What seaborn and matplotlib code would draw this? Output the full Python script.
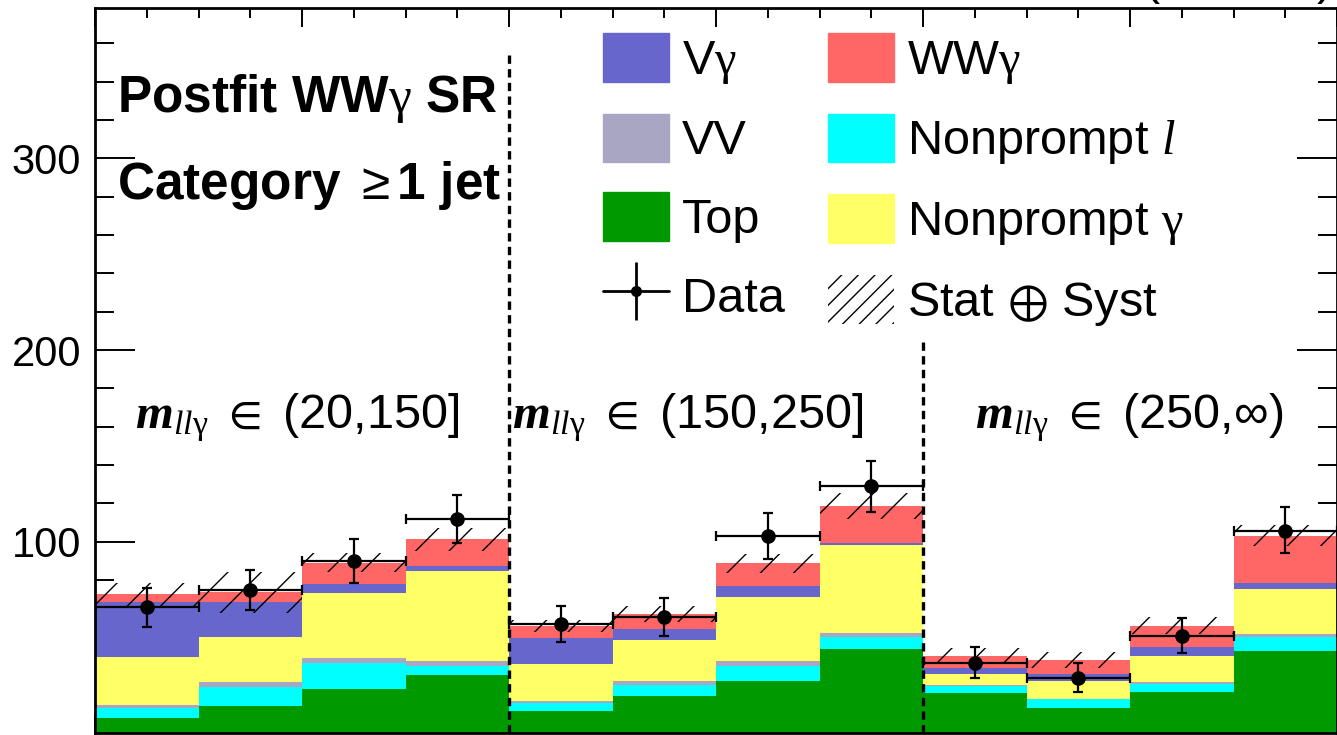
import seaborn as sns
import matplotlib.pyplot as plt
import matplotlib.patches as mpatches
from matplotlib.lines import Line2D
from matplotlib.legend_handler import HandlerTuple
from matplotlib.ticker import MultipleLocator, FixedLocator
import pandas as pd
import numpy as np

sns.set_style("ticks")
plt.rcParams["font.family"] = ["Liberation Sans", "DejaVu Sans"]
plt.rcParams["text.color"] = "black"
plt.rcParams["axes.edgecolor"] = "black"
plt.rcParams["xtick.color"] = "black"
plt.rcParams["ytick.color"] = "black"
plt.rcParams["mathtext.fontset"] = "custom"
plt.rcParams["mathtext.rm"] = "Liberation Sans"
plt.rcParams["mathtext.it"] = "Liberation Serif:italic"
plt.rcParams["mathtext.bf"] = "Liberation Serif:bold:italic"
plt.rcParams["mathtext.sf"] = "Liberation Serif"
plt.rcParams["mathtext.fallback"] = "stix"
plt.rcParams["hatch.linewidth"] = 1.0

# 12 analysis bins along x
bin_edges = list(range(13))
centers = np.arange(12) + 0.5

# postfit yields per process, bottom of stack first
top      = [7.8, 14.2, 22.9, 30.4, 11.8, 19.6, 27.5, 44.2, 20.9, 13.4, 21.5, 43.1]
np_lep   = [5.6, 10.1, 13.6, 4.9, 3.8, 5.6, 7.6, 6.2, 3.8, 4.3, 4.4, 7.3]
vv       = [1.4, 2.3, 2.6, 2.4, 1.3, 2.1, 2.6, 2.1, 0.5, 0.4, 1.0, 1.2]
np_pho   = [25.2, 23.8, 33.9, 47.0, 19.3, 21.4, 33.6, 45.6, 5.7, 9.4, 13.6, 23.7]
vgamma   = [28.7, 18.3, 4.9, 2.8, 13.4, 5.7, 5.6, 1.2, 3.3, 3.4, 4.7, 2.9]
wwgamma  = [3.8, 4.8, 11.1, 13.7, 6.4, 7.8, 11.8, 19.3, 6.1, 7.3, 11.0, 24.9]

# total uncertainty (stat + syst) on the stack
unc = [6.0, 10.5, 5.0, 6.0, 3.2, 4.0, 5.0, 6.6, 4.0, 4.0, 4.3, 5.6]

# observed data with asymmetric errors
data_y  = [65.7, 74.8, 89.9, 111.8, 56.9, 60.8, 102.8, 129.0, 36.9, 28.7, 50.8, 105.7]
data_up = [10.3, 10.4, 11.3, 12.6, 9.7, 9.8, 12.0, 12.9, 8.3, 7.8, 9.2, 12.5]
data_dn = [10.1, 10.5, 11.3, 12.3, 9.4, 9.9, 11.9, 13.4, 8.2, 7.3, 9.1, 11.8]

procs = {
    r"WW$\mathsf{\gamma}$": (wwgamma, "#FF6666"),
    r"V$\mathsf{\gamma}$": (vgamma, "#6666CC"),
    r"Nonprompt $\mathsf{\gamma}$": (np_pho, "#FFFF66"),
    "VV": (vv, "#A9A6C3"),
    r"Nonprompt $\mathit{l}$": (np_lep, "#00FFFF"),
    "Top": (top, "#009900"),
}

rows = []
for name, (vals, _) in procs.items():
    for c, v in zip(centers, vals):
        rows.append({"x": c, "w": v, "process": name})
df = pd.DataFrame(rows)
palette = {k: v[1] for k, v in procs.items()}

fig = plt.figure(figsize=(13.37, 7.35), dpi=100)
ax = fig.add_axes([95 / 1337, 1.7 / 735, 1242 / 1337, 725 / 735])

sns.histplot(data=df, x="x", weights="w", hue="process", hue_order=list(procs.keys()),
             multiple="stack", bins=bin_edges, element="bars", fill=True, alpha=1,
             linewidth=0, edgecolor="none", palette=palette, legend=False, ax=ax)

total = np.sum([v[0] for v in procs.values()], axis=0)
ax.bar(centers, 2 * np.array(unc), bottom=total - np.array(unc), width=1.0,
       fill=False, hatch="/", edgecolor="black", linewidth=0)

ax.errorbar(centers, data_y, xerr=0.5, yerr=[data_dn, data_up], fmt="o",
            color="black", markersize=9.5, elinewidth=1.6, capsize=3.5,
            capthick=1.6)

# region separators
ax.plot([4, 4], [0, 356], color="black", lw=2.4, dashes=(2.5, 1.6))
ax.plot([8, 8], [0, 204], color="black", lw=2.4, dashes=(2.5, 1.6))

ax.set_xlim(0, 12)
ax.set_ylim(0, 378.3)
ax.set_xlabel("")
ax.set_ylabel("")
ax.xaxis.set_major_locator(MultipleLocator(2))
ax.xaxis.set_minor_locator(MultipleLocator(0.5))
ax.yaxis.set_major_locator(FixedLocator([100, 200, 300]))
ax.yaxis.set_minor_locator(MultipleLocator(20))
ax.tick_params(axis="x", which="both", direction="in", top=True, bottom=True,
               labelbottom=False)
ax.tick_params(axis="x", which="major", length=14, width=1.4)
ax.tick_params(axis="x", which="minor", length=7.2, width=1.4)
ax.tick_params(axis="y", which="both", direction="in", left=True, right=True,
               labelsize=30, pad=10)
ax.tick_params(axis="y", which="major", length=29, width=1.4)
ax.tick_params(axis="y", which="minor", length=14, width=1.4)
for s in ax.spines.values():
    s.set_linewidth(2.0)

ax.text(0.21, 324, r"Postfit WW$\mathsf{\gamma}$ SR", fontsize=37,
        fontweight="bold", va="baseline")
ax.text(0.21, 278.7, r"Category $\geq$1 jet", fontsize=37,
        fontweight="bold", va="baseline")

regions = [r"(20,150]", r"(150,250]", r"(250,$\infty$)"]
region_x = [0.386, 4.03, 8.50]
for lab, xx in zip(regions, region_x):
    ax.text(xx, 159, r"$\mathbf{m}_{\mathit{ll}\mathsf{\gamma}}$ $\in$ " + lab,
            fontsize=35, va="baseline")

fig.text(1332 / 1337, 1 + 5 / 735, r"138 fb$^{-1}$ (13 TeV)", fontsize=35,
         ha="right", va="baseline")

data_handle = (Line2D([], [], color="black", lw=2, marker="o", markersize=7),
               Line2D([], [], color="black", lw=0, marker="|", markersize=42,
                      markeredgewidth=2))
handles = [
    mpatches.Patch(color=procs[r"V$\mathsf{\gamma}$"][1]),
    mpatches.Patch(color=procs["VV"][1]),
    mpatches.Patch(color=procs["Top"][1]),
    data_handle,
    mpatches.Patch(color=procs[r"WW$\mathsf{\gamma}$"][1]),
    mpatches.Patch(color=procs[r"Nonprompt $\mathit{l}$"][1]),
    mpatches.Patch(color=procs[r"Nonprompt $\mathsf{\gamma}$"][1]),
    mpatches.Patch(facecolor="white", edgecolor="black", hatch="//", linewidth=0),
]
labels = [r"V$\mathsf{\gamma}$", "VV", "Top", "Data", r"WW$\mathsf{\gamma}$",
          r"Nonprompt $\mathit{l}$", r"Nonprompt $\mathsf{\gamma}$", r"Stat $\oplus$ Syst"]
ax.legend(handles, labels, ncol=2, loc="upper left", frameon=False,
          bbox_to_anchor=(603 / 1337, 1 - 33 / 735), bbox_transform=fig.transFigure,
          fontsize=35, borderpad=0, borderaxespad=0, handlelength=1.36,
          handleheight=1.17, handletextpad=0.27, labelspacing=0.57,
          columnspacing=0.88, handler_map={tuple: HandlerTuple(ndivide=1, pad=0)})

plt.savefig("out.png")
plt.close()
